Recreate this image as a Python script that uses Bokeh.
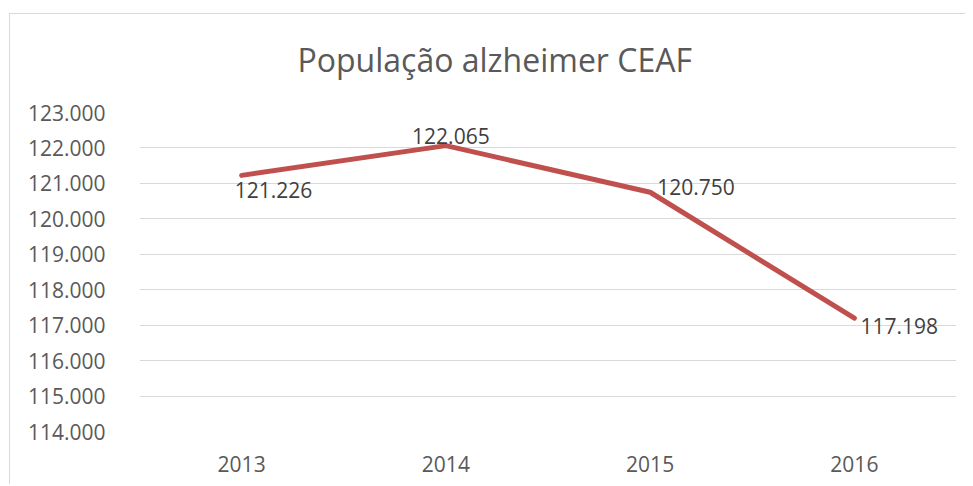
from bokeh.plotting import figure
from bokeh.models import ColumnDataSource, Range1d, FactorRange, SingleIntervalTicker, CustomJSTickFormatter
from bokeh.embed import file_html
from bokeh.resources import INLINE
from bokeh.core.properties import value

title_text = "População alzheimer CEAF"
years = ["2013", "2014", "2015", "2016"]
populacao = [121226, 122065, 120750, 117198]
y_min, y_max, y_step = 114000, 123000, 1000

def fmt(v):
    return f"{v:,}".replace(",", ".")

labels = [fmt(v) for v in populacao]

# label placement (style)
lab_align = ["left", "center", "left", "left"]
lab_dx = [-7, 5, 7, 6]
lab_dy = [15, -10, -5, 8]

FONT = "Open Sans"
GRAY = "#D9D9D9"
src = ColumnDataSource(dict(x=years, y=populacao, t=labels, a=lab_align, dx=lab_dx, dy=lab_dy))

p = figure(width=965, height=484, x_range=FactorRange(*years, range_padding=0),
           y_range=Range1d(y_min, y_max), output_backend="svg", toolbar_location=None,
           min_border_left=139, min_border_right=9, min_border_top=112, min_border_bottom=53)
# chart-area border (top and left edges visible), drawn behind a transparent canvas border
p.styles = {"background": f"linear-gradient({GRAY},{GRAY}) 9px 13px / 100% 1px no-repeat, "
                          f"linear-gradient({GRAY},{GRAY}) 9px 13px / 1px 100% no-repeat, #FFFFFF"}
p.outline_line_color = None
p.background_fill_color = "white"
p.border_fill_color = None

p.title.text = title_text
p.title.align = "left"
p.title.offset = 158
p.title.standoff = 64
p.title.text_font = FONT
p.title.text_font_size = "32px"
p.title.text_font_style = "normal"
p.title.text_color = "#595959"

p.line("x", "y", source=src, line_color="#C0504D", line_width=5, line_cap="round", line_join="round")
p.text("x", "y", text="t", source=src, text_align="a", x_offset="dx", y_offset="dy",
       text_baseline="middle", text_font=value(FONT), text_font_size="21px", text_color="#404040")

p.yaxis.ticker = SingleIntervalTicker(interval=y_step)
p.yaxis.formatter = CustomJSTickFormatter(code="return Math.round(tick).toString().replace(/\\B(?=(\\d{3})+(?!\\d))/g, '.');")
for ax in (p.xaxis, p.yaxis):
    ax.axis_line_color = None
    ax.major_tick_line_color = None
    ax.minor_tick_line_color = None
    ax.major_label_text_font = FONT
    ax.major_label_text_font_size = "21px"
    ax.major_label_text_color = "#595959"
p.yaxis.major_label_standoff = 28
p.xaxis.major_label_standoff = 18
p.xgrid.grid_line_color = None
p.ygrid.grid_line_color = GRAY
p.ygrid.grid_line_width = 1

open("out.html", "w").write(file_html(p, INLINE))
